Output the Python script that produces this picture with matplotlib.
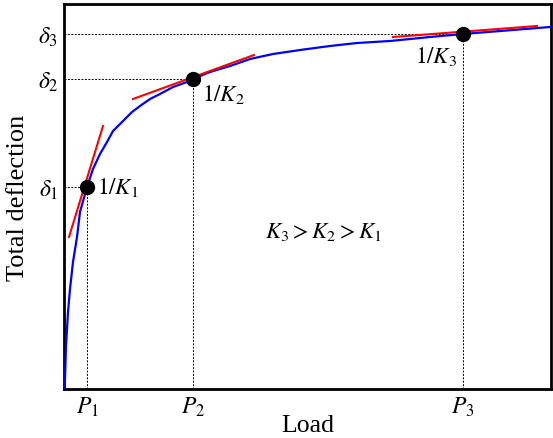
import matplotlib
matplotlib.use("Agg")
import matplotlib.pyplot as plt

plt.rcParams['mathtext.fontset'] = 'stix'
plt.rcParams['font.family'] = ['Liberation Serif', 'DejaVu Serif']

# Blue load-deflection curve (arbitrary units)
load = [0, 1, 2, 4, 6, 9, 13, 16, 23, 29, 36, 43, 49, 59, 68, 76, 86, 96, 109, 123,
        129, 146, 166, 186, 209, 236, 266, 293, 326, 366, 399, 486]
deflection = [0, 10, 43, 77, 100, 127, 152, 177, 202, 220, 235, 247, 258, 268, 277, 283,
              290, 295, 302, 307, 310, 317, 323, 330, 335, 339, 343, 346, 348, 352, 355, 362]

# Marked points
P = [23, 129, 399]
delta = [202, 310, 355]
p_labels = [r'$P_1$', r'$P_2$', r'$P_3$']
d_labels = [r'$\delta_1$', r'$\delta_2$', r'$\delta_3$']

# Tangent segments (x0, x1), (y0, y1)
tan_x = [(5, 39), (69, 190), (329, 473)]
tan_y = [(152, 263), (290, 334), (352, 363)]

fig = plt.figure(figsize=(5.53, 4.39), dpi=100)
ax = fig.add_axes([64/553, 1-390/439, 487/553, 385/439])
ax.set_xlim(0, 487)
ax.set_ylim(0, 385)

for p, d in zip(P, delta):
    ax.plot([0, p], [d, d], color='black', linestyle=(0, (2, 1.5)), linewidth=0.7)
    ax.plot([p, p], [0, d], color='black', linestyle=(0, (2, 1.5)), linewidth=0.7)

ax.plot(load, deflection, color='blue', linewidth=1.6, zorder=3)
for tx, ty in zip(tan_x, tan_y):
    ax.plot(tx, ty, color='red', linewidth=1.5, zorder=4)
ax.plot(P, delta, 'o', color='black', markersize=10, zorder=5)

ax.text(P[0] + 10, delta[0], r'$1/K_1$', fontsize=16.5, va='center', ha='left')
ax.text(P[1] + 9, delta[1] - 15, r'$1/K_2$', fontsize=16.5, va='center', ha='left')
ax.text(P[2] - 6, delta[2] - 22, r'$1/K_3$', fontsize=16.5, va='center', ha='right')
ax.text(259, 158, r'$K_3 > K_2 > K_1$', fontsize=16.5, va='center', ha='center')

ax.set_xticks(P)
ax.set_xticklabels(p_labels, fontsize=17)
ax.set_yticks(delta)
ax.set_yticklabels(d_labels, fontsize=17)
ax.tick_params(length=0, pad=4)
for s in ax.spines.values():
    s.set_linewidth(2)

ax.set_xlabel('Load', fontsize=18.5, labelpad=-3)
ax.set_ylabel('Total deflection', fontsize=19, labelpad=6)

fig.savefig('out.png', dpi=100)
